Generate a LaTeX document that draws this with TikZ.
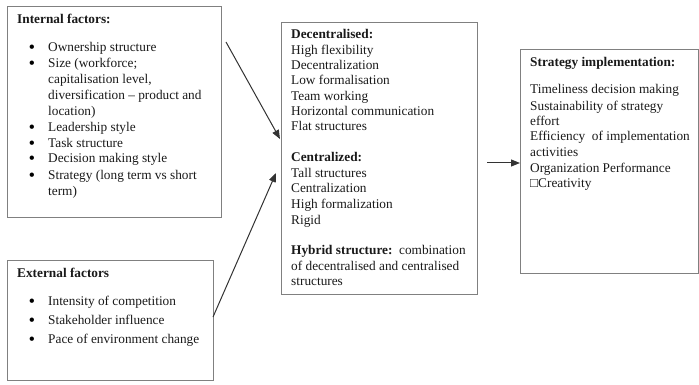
\documentclass[tikz,border=0pt]{standalone}
\usepackage{fontspec}
\setmainfont{Liberation Serif}
\usetikzlibrary{arrows.meta}
\tikzset{
  box/.style={draw=black!50, line width=1.2pt, anchor=north west, inner sep=0pt},
  txt/.style={anchor=base west, inner sep=0pt, font=\fontsize{13.3}{15.5}\selectfont, text=black!90},
  ttl/.style={txt, font=\fontsize{13.3}{15.5}\selectfont\bfseries},
  bul/.style={anchor=base, inner sep=0pt, text height=7pt, text depth=0pt, font=\fontsize{16}{16}\selectfont\bfseries, yshift=-1pt},
  arr/.style={draw=black!80, line width=1pt, -{Triangle[length=9pt,width=7pt]}}
}
\begin{document}
\begin{tikzpicture}[x=1pt,y=-1pt]
\useasboundingbox (0,0) rectangle (699,385);
% boxes
\node[box, minimum width=214pt, minimum height=211pt] (int) at (7,6) {};
\node[box, minimum width=206pt, minimum height=120pt] (ext) at (7,260) {};
\node[box, minimum width=196pt, minimum height=272pt] (mid) at (281,22) {};
\node[box, minimum width=178pt, minimum height=224pt] (imp) at (520,49) {};
% internal factors
\node[ttl] (i0) at (17,24) {Internal factors:};
\node[bul] (ib1) at (32,52) {•};  \node[txt] (i1) at (48,52) {Ownership structure};
\node[bul] (ib2) at (32,68) {•};  \node[txt] (i2) at (48,68) {Size (workforce;};
\node[txt] (i3) at (48,84) {capitalisation level,};
\node[txt] (i4) at (48,100) {diversification – product and};
\node[txt] (i5) at (48,116) {location)};
\node[bul] (ib6) at (32,132) {•}; \node[txt] (i6) at (48,132) {Leadership style};
\node[bul] (ib7) at (32,148) {•}; \node[txt] (i7) at (48,148) {Task structure};
\node[bul] (ib8) at (32,163) {•}; \node[txt] (i8) at (48,163) {Decision making style};
\node[bul] (ib9) at (32,179) {•}; \node[txt] (i9) at (48,179) {Strategy (long term vs short};
\node[txt] (i10) at (48,195) {term)};
% external factors
\node[ttl] (e0) at (17,277) {External factors};
\node[bul] (eb1) at (32,305) {•}; \node[txt] (e1) at (48,305) {Intensity of competition};
\node[bul] (eb2) at (32,324) {•}; \node[txt] (e2) at (48,324) {Stakeholder influence};
\node[bul] (eb3) at (32,343) {•}; \node[txt] (e3) at (48,343) {Pace of environment change};
% middle
\node[ttl] (m0) at (291,39) {Decentralised:};
\node[txt] (m1) at (291,55) {High flexibility};
\node[txt] (m2) at (291,70) {Decentralization};
\node[txt] (m3) at (291,85) {Low formalisation};
\node[txt] (m4) at (291,101) {Team working};
\node[txt] (m5) at (291,116) {Horizontal communication};
\node[txt] (m6) at (291,131) {Flat structures};
\node[ttl] (m7) at (291,162) {Centralized:};
\node[txt] (m8) at (291,178) {Tall structures};
\node[txt] (m9) at (291,193) {Centralization};
\node[txt] (m10) at (291,208) {High formalization};
\node[txt] (m11) at (291,224) {Rigid};
\node[txt] (m12) at (291,254) {\textbf{Hybrid structure:}\ \ combination};
\node[txt] (m13) at (291,270) {of decentralised and centralised};
\node[txt] (m14) at (291,285) {structures};
% strategy implementation
\node[ttl] (s0) at (530,67) {Strategy implementation:};
\node[txt] (s1) at (530,94) {Timeliness decision making};
\node[txt] (s2) at (530,111) {Sustainability of strategy};
\node[txt] (s3) at (530,126) {effort};
\node[txt] (s4) at (530,141) {Efficiency\ \ of implementation};
\node[txt] (s5) at (530,157) {activities};
\node[txt] (s6) at (530,172) {Organization Performance};
\node[txt] (s7) at (530,188) {□Creativity};
% connectors
\coordinate (a1s) at (226,42);
\coordinate (a1e) at (280,139);
\coordinate (a2s) at (213,317);
\coordinate (a2e) at (276,173);
\coordinate (a3s) at (487,163);
\coordinate (a3e) at (520,163);
\draw[arr] (a1s) -- (a1e);
\draw[arr] (a2s) -- (a2e);
\draw[arr] (a3s) -- (a3e);
\end{tikzpicture}
\end{document}
